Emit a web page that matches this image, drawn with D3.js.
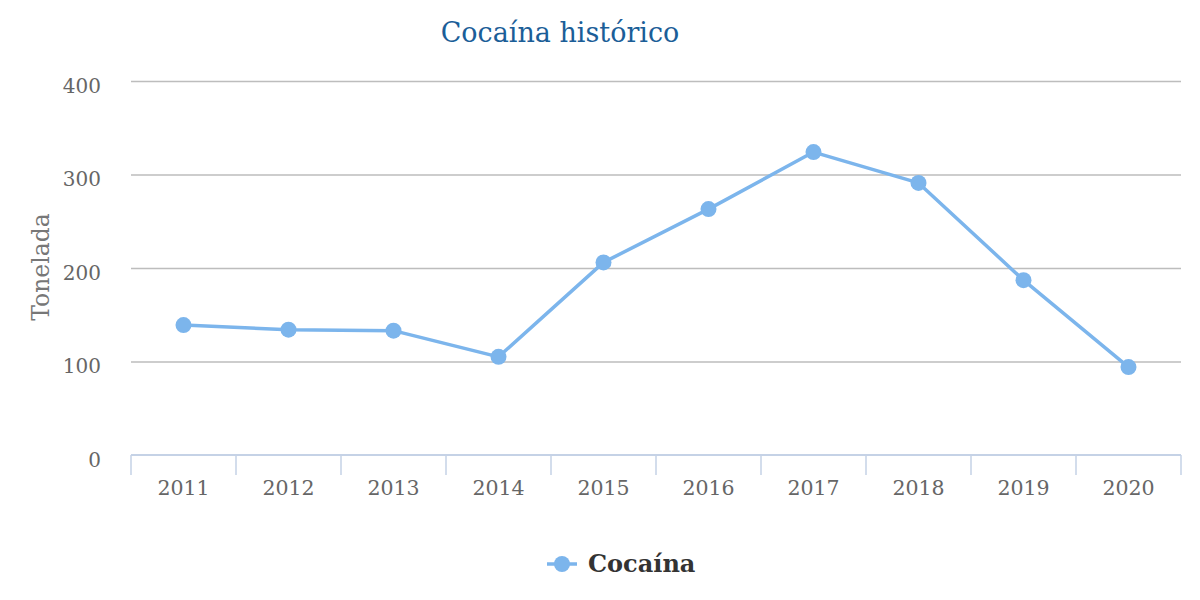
<!DOCTYPE html>
<html>
<head>
<meta charset="utf-8">
<script src="https://cdn.jsdelivr.net/npm/d3@7"></script>
<style>
  body { margin: 0; background: #fff; }
  svg { display: block; font-family: "DejaVu Serif", serif; }
</style>
</head>
<body>
<svg id="chart" width="1200" height="600"></svg>
<script>
// data
const years = ["2011", "2012", "2013", "2014", "2015", "2016", "2017", "2018", "2019", "2020"];
const cocaina = [139, 134, 133, 105, 206, 263, 324, 291, 187, 94];
const yTicks = [0, 100, 200, 300, 400];

const width = 1200, height = 600;
const margin = { top: 81, right: 19, bottom: 145, left: 131 };
const plotW = width - margin.left - margin.right;
const plotH = height - margin.top - margin.bottom;
const color = "#7cb5ec";

const svg = d3.select("#chart");

svg.append("text")
    .attr("x", 560)
    .attr("y", 42)
    .attr("text-anchor", "middle")
    .style("fill", "#1b5e98")
    .style("font-size", "27px")
    .text("Cocaína histórico");

const g = svg.append("g")
    .attr("transform", `translate(${margin.left},${margin.top})`);

const x = d3.scaleBand()
    .domain(years)
    .range([0, plotW]);

const y = d3.scaleLinear()
    .domain([0, 400])
    .range([plotH, 0]);

// gridlines
const grid = g.append("g")
    .call(d3.axisLeft(y).tickValues(yTicks.slice(1)).tickSize(-plotW).tickFormat(""));
grid.select(".domain").remove();
grid.selectAll("line").style("stroke", "#bdbdbd").style("stroke-width", 1.5);

// y axis labels
const yAxis = g.append("g")
    .call(d3.axisLeft(y).tickValues(yTicks).tickSize(0).tickPadding(30));
yAxis.select(".domain").remove();
yAxis.selectAll("text")
    .style("font-family", "DejaVu Serif, serif")
    .style("font-size", "20px")
    .style("fill", "#666")
    .attr("dy", "0.55em");

svg.append("text")
    .attr("transform", `translate(49,${margin.top + plotH / 2 - 1}) rotate(-90)`)
    .attr("text-anchor", "middle")
    .style("fill", "#777")
    .style("font-size", "23.5px")
    .text("Tonelada");

// x axis with ticks between categories
const xAxis = g.append("g")
    .attr("transform", `translate(0,${plotH})`)
    .call(d3.axisBottom(x).tickSize(0).tickPadding(25));
xAxis.select(".domain").remove();
xAxis.selectAll("text")
    .style("font-family", "DejaVu Serif, serif")
    .style("font-size", "20.5px")
    .style("fill", "#666");

g.append("line")
    .attr("x1", 0).attr("x2", plotW)
    .attr("y1", plotH).attr("y2", plotH)
    .style("stroke", "#c5d2e6")
    .style("stroke-width", 2);

const edges = years.map(d => x(d)).concat([plotW]);
g.selectAll(".xtick")
    .data(edges)
    .enter()
    .append("line")
    .attr("class", "xtick")
    .attr("x1", d => d).attr("x2", d => d)
    .attr("y1", plotH).attr("y2", plotH + 20)
    .style("stroke", "#c5d2e6")
    .style("stroke-width", 1.5);

// series
const line = d3.line()
    .x((d, i) => x(years[i]) + x.bandwidth() / 2)
    .y(d => y(d));

g.append("path")
    .datum(cocaina)
    .attr("d", line)
    .attr("fill", "none")
    .attr("stroke", color)
    .attr("stroke-width", 3.5)
    .attr("stroke-linejoin", "round");

g.selectAll(".dot")
    .data(cocaina)
    .enter()
    .append("circle")
    .attr("class", "dot")
    .attr("cx", (d, i) => x(years[i]) + x.bandwidth() / 2)
    .attr("cy", d => y(d))
    .attr("r", 8)
    .attr("fill", color);

// legend
const legend = svg.append("g").attr("transform", "translate(547,564)");
legend.append("line")
    .attr("x1", 0).attr("x2", 30)
    .style("stroke", color)
    .style("stroke-width", 3.5);
legend.append("circle")
    .attr("cx", 15)
    .attr("r", 8)
    .attr("fill", color);
legend.append("text")
    .attr("x", 41)
    .attr("y", 8)
    .style("font-size", "24px")
    .style("font-weight", "bold")
    .style("fill", "#333")
    .text("Cocaína");
</script>
</body>
</html>
